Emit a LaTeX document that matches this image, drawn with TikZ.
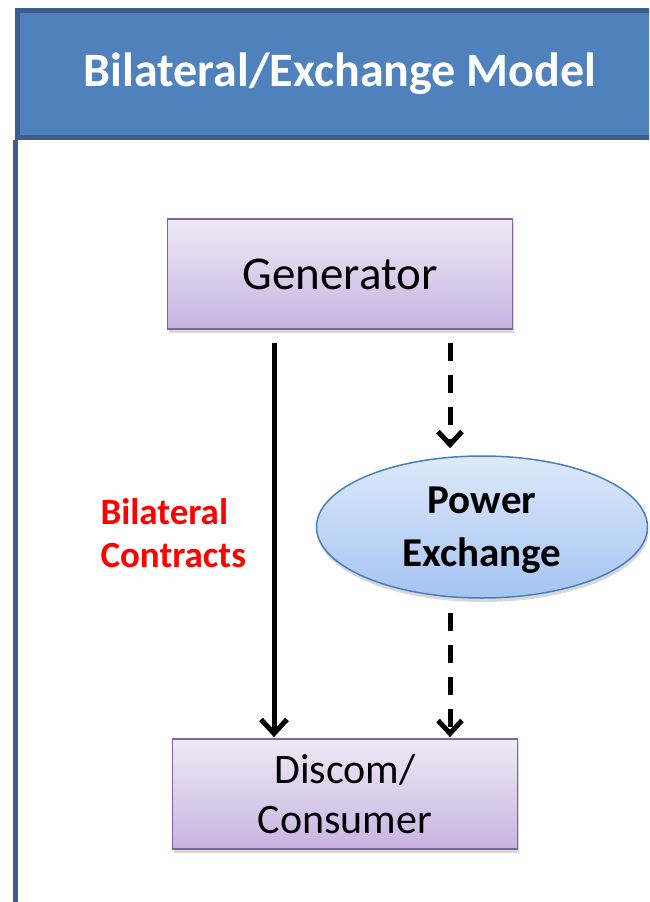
\documentclass[tikz,border=0pt]{standalone}
\usepackage{fontspec}
\setmainfont{Carlito}
\usetikzlibrary{arrows.meta, calc, shapes.geometric, shadows}
\definecolor{mkHead}{HTML}{4F81BD}
\definecolor{mkHeadLine}{HTML}{3B5F8D}
\definecolor{mkBoxLine}{HTML}{8064A2}
\definecolor{mkBoxTop}{HTML}{EFE9F7}
\definecolor{mkBoxBot}{HTML}{C7B4E1}
\definecolor{mkExLine}{HTML}{4A7EBB}
\definecolor{mkExTop}{HTML}{DEE9FA}
\definecolor{mkExBot}{HTML}{A4C4F3}
\tikzset{
  mk/.style={x=1pt, y=-1pt, line width=1pt},
  head/.style={draw=mkHeadLine, fill=mkHead, line width=5pt, minimum width=645pt, minimum height=127pt, inner sep=0pt, text=white, font=\fontsize{48}{56}\selectfont\bfseries},
  party/.style={draw=mkBoxLine, line width=1.8pt, top color=mkBoxTop, bottom color=mkBoxBot, minimum width=345pt, minimum height=110pt, inner sep=0pt, align=center, drop shadow={shadow xshift=1pt, shadow yshift=-4pt, opacity=0.3}},
  market/.style={ellipse, draw=mkExLine, line width=1.5pt, top color=mkExTop, bottom color=mkExBot, minimum width=331pt, minimum height=142pt, inner sep=0pt, align=center, text depth=0pt, font=\fontsize{41}{53}\selectfont\bfseries, drop shadow={shadow xshift=1pt, shadow yshift=-4pt, opacity=0.3}},
  contract/.style={line width=5pt, -{Straight Barb[length=14pt, width=26pt]}},
  trade/.style={line width=5pt, dash pattern=on 18pt off 14pt, -{Straight Barb[length=13pt, width=24pt]}},
  note/.style={text=red, align=left, inner sep=0pt, font=\fontsize{37}{43}\selectfont\bfseries},
}
\begin{document}
\begin{tikzpicture}[
  mk,
]
\useasboundingbox (0,0) rectangle (649,902);
\clip (0,0) rectangle (649,902);
\fill[white] (0,0) rectangle (649,902);

\node[head] (head) at (340,74) {Bilateral/Exchange Model};
\draw[mkHeadLine, line width=5pt] (head.south west) -- ++(0,800);

\node[party, font=\fontsize{47}{56}\selectfont] (gen) at (340,274) {Generator};
\node[market] (ex) at (482,527) {Power\\Exchange};
\node[party, font=\fontsize{42}{50}\selectfont] (disc) at (345,794) {Discom/\\Consumer};
\node[note, anchor=west] (bil) at (100,533) {Bilateral\\Contracts};

\draw[contract] ($(gen.south)+(-66,13)$) -- ($(disc.north)+(-71,-1)$);
\draw[trade] ($(gen.south)+(110,13)$) -- ($(ex.north)+(-32,-7)$);
\draw[trade] ($(ex.south)+(-32,14)$) -- ($(disc.north)+(105,-1)$);
\end{tikzpicture}
\end{document}
